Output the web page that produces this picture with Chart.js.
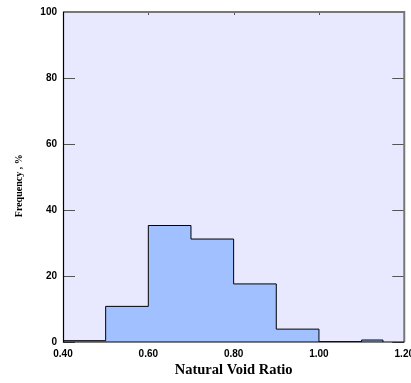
<!DOCTYPE html>
<html>
<head>
<meta charset="utf-8">
<script src="https://cdn.jsdelivr.net/npm/chart.js@4"></script>
<style>
  html, body { margin: 0; padding: 0; overflow: hidden; background: #ffffff; }
  #wrap { position: relative; width: 420px; height: 383px; }
</style>
</head>
<body>
<div id="wrap"><canvas id="c"></canvas></div>
<script>
// Histogram bins (natural void ratio) and frequency (%)
const binStarts = [0.40, 0.50, 0.60, 0.70, 0.80, 0.90, 1.00, 1.10];
const binEnds   = [0.50, 0.60, 0.70, 0.80, 0.90, 1.00, 1.10, 1.15];
const frequency = [0.4, 10.8, 35.3, 31.2, 17.6, 3.9, 0.1, 0.6];
const yTicks = [0, 20, 40, 60, 80, 100];
const xTicks = [0.40, 0.60, 0.80, 1.00, 1.20];

const points = binStarts.map((x, i) => ({ x: x, y: frequency[i] }));
points.push({ x: binEnds[binEnds.length - 1], y: 0 });

const framePlugin = {
  id: 'frame',
  beforeDatasetsDraw(chart) {
    const { ctx, chartArea: a } = chart;
    ctx.save();
    ctx.fillStyle = '#e8e8ff';
    ctx.fillRect(a.left, a.top, a.right - a.left, a.bottom - a.top);
    ctx.restore();
  },
  afterDatasetsDraw(chart) {
    const { ctx, chartArea: a, scales } = chart;
    const xs = scales.x, ys = scales.y;
    ctx.save();
    ctx.strokeStyle = '#555';
    ctx.lineWidth = 1;
    yTicks.forEach(v => {
      const y = Math.round(ys.getPixelForValue(v)) + 0.5;
      ctx.beginPath();
      ctx.moveTo(a.left, y); ctx.lineTo(a.left + 12, y);
      ctx.moveTo(a.right, y); ctx.lineTo(a.right - 12, y);
      ctx.stroke();
    });
    xTicks.forEach(v => {
      const x = Math.round(xs.getPixelForValue(v)) + 0.5;
      ctx.beginPath();
      ctx.moveTo(x, a.top); ctx.lineTo(x, a.top + 3);
      ctx.stroke();
    });
    ctx.strokeStyle = '#777';
    ctx.lineWidth = 2;
    ctx.beginPath();
    ctx.moveTo(a.left, a.top); ctx.lineTo(a.right, a.top); ctx.lineTo(a.right, a.bottom);
    ctx.stroke();
    ctx.strokeStyle = '#000';
    ctx.lineWidth = 1.2;
    ctx.beginPath();
    ctx.moveTo(a.left + 0.5, a.top); ctx.lineTo(a.left + 0.5, a.bottom); ctx.lineTo(a.right, a.bottom);
    ctx.stroke();
    ctx.restore();
  }
};

new Chart(document.getElementById('c'), {
  type: 'line',
  data: {
    datasets: [{
      data: points,
      stepped: 'before',
      fill: 'origin',
      backgroundColor: '#a0c0ff',
      borderColor: '#000000',
      borderWidth: 1,
      pointRadius: 0,
      tension: 0
    }]
  },
  options: {
    responsive: true,
    maintainAspectRatio: false,
    animation: false,
    layout: { padding: { left: 0, right: 13, top: 9, bottom: 0 } },
    plugins: { legend: { display: false }, tooltip: { enabled: false } },
    scales: {
      x: {
        type: 'linear',
        min: 0.4, max: 1.2,
        afterBuildTicks(scale) { scale.ticks = xTicks.map(v => ({ value: v })); },
        afterFit(scale) { scale.height = 41; },
        grid: { display: false, drawTicks: false },
        border: { display: false },
        ticks: {
          padding: 6,
          color: '#000',
          font: { family: 'Liberation Sans', weight: 'bold', size: 10 },
          maxRotation: 0,
          autoSkip: false,
          callback: v => Number(v).toFixed(2)
        },
        title: {
          display: true,
          text: 'Natural Void Ratio',
          color: '#000',
          font: { family: 'Liberation Serif', weight: 'bold', size: 14.5 },
          padding: { top: 0, bottom: 4 }
        }
      },
      y: {
        min: 0, max: 100,
        afterBuildTicks(scale) { scale.ticks = yTicks.map(v => ({ value: v })); },
        afterFit(scale) { scale.width = 63; },
        grid: { display: false, drawTicks: false },
        border: { display: false },
        ticks: {
          padding: 6,
          color: '#000',
          font: { family: 'Liberation Sans', weight: 'bold', size: 10 },
          callback: v => String(v)
        },
        title: {
          display: true,
          text: 'Frequency , %       ',
          color: '#000',
          font: { family: 'Liberation Serif', weight: 'bold', size: 10 },
          padding: { top: 13, bottom: 0 }
        }
      }
    }
  },
  plugins: [framePlugin]
});
</script>
</body>
</html>
